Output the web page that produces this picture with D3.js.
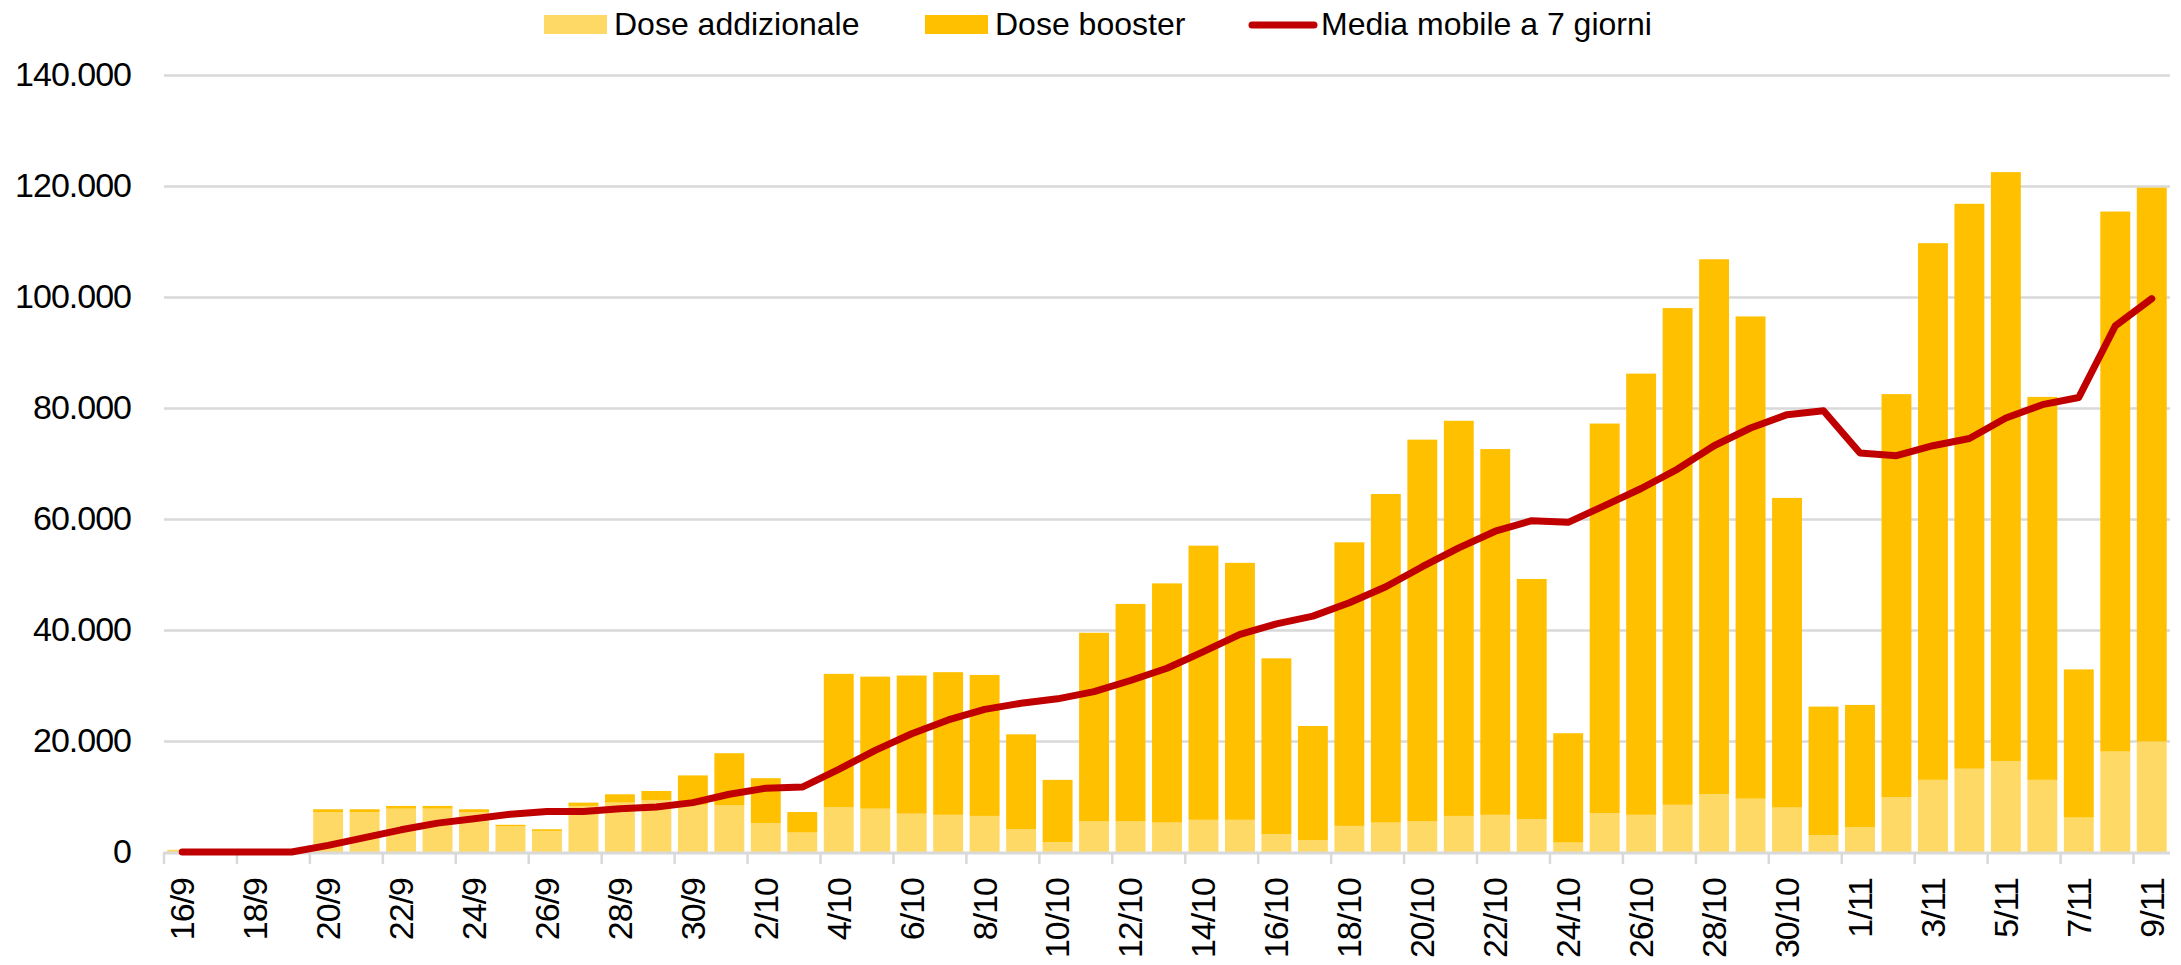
<!DOCTYPE html>
<html>
<head>
<meta charset="utf-8">
<script src="https://cdn.jsdelivr.net/npm/d3@7"></script>
<style>
    body { margin: 0; background: #fff; }
    svg { display: block; font-family: "Liberation Sans", Arial, sans-serif; }
</style>
</head>
<body>
<svg id="chart" width="2181" height="965"></svg>
<script>
// days, one bar each
const dates = [
    "16/9", "17/9", "18/9", "19/9", "20/9", "21/9", "22/9", "23/9", "24/9", "25/9",
    "26/9", "27/9", "28/9", "29/9", "30/9", "1/10", "2/10", "3/10", "4/10", "5/10",
    "6/10", "7/10", "8/10", "9/10", "10/10", "11/10", "12/10", "13/10", "14/10", "15/10",
    "16/10", "17/10", "18/10", "19/10", "20/10", "21/10", "22/10", "23/10", "24/10", "25/10",
    "26/10", "27/10", "28/10", "29/10", "30/10", "31/10", "1/11", "2/11", "3/11", "4/11",
    "5/11", "6/11", "7/11", "8/11", "9/11"
];

const addizionale = [
    400, 0, 0, 0, 7200, 7200, 7800, 7800, 7200, 4600,
    3800, 8300, 8900, 9300, 8500, 8400, 5200, 3500, 8100, 7800,
    6900, 6700, 6500, 4100, 1800, 5500, 5500, 5300, 5800, 5800,
    3200, 2100, 4700, 5300, 5500, 6500, 6700, 5900, 1700, 7000,
    6700, 8500, 10400, 9600, 8000, 3000, 4500, 9900, 13000, 15000,
    16400, 13000, 6200, 18100, 19900
];

const booster = [
    0, 0, 0, 0, 500, 500, 500, 500, 500, 300,
    300, 600, 1500, 1700, 5300, 9400, 8100, 3700, 24000, 23800,
    24900, 25700, 25400, 17100, 11200, 34000, 39200, 43100, 49400, 46300,
    31700, 20600, 51100, 59200, 68800, 71200, 65900, 43300, 19700, 70200,
    79500, 89500, 96400, 86900, 55800, 23200, 22000, 72600, 96700, 101800,
    106100, 69000, 26700, 97300, 99800
];

// media mobile a 7 giorni
const media = [
    0, 0, 0, 0, 1200, 2600, 4000, 5200, 6000, 6800,
    7300, 7300, 7800, 8100, 8900, 10400, 11500, 11700, 14900, 18300,
    21300, 23800, 25700, 26800, 27600, 28900, 30900, 33100, 36100, 39200,
    41100, 42500, 44900, 47800, 51400, 54800, 57800, 59700, 59400, 62400,
    65500, 69000, 73200, 76400, 78800, 79500, 71900, 71400, 73200, 74500,
    78200, 80600, 81900, 94800, 99700
];

const yTicks = [0, 20000, 40000, 60000, 80000, 100000, 120000, 140000];

const legendLabels = ["Dose addizionale", "Dose booster", "Media mobile a 7 giorni"];

const colors = { addizionale: "#FFD966", booster: "#FFC000", media: "#C00000" };
const gridColor = "#D9D9D9";

// italian number format: 140.000
const fmt = d3.formatLocale({ decimal: ",", thousands: ".", grouping: [3], currency: ["€", ""] }).format(",");

const svg = d3.select("#chart");
const plotLeft = 164, plotRight = 2170, plotTop = 75, plotBottom = 852;

const x = d3.scaleBand()
    .domain(dates)
    .range([plotLeft, plotRight])
    .paddingInner(0.18)
    .paddingOuter(0.09);

const y = d3.scaleLinear()
    .domain([0, 140000])
    .range([plotBottom, plotTop]);

// y axis + gridlines
const yAxis = svg.append("g")
    .attr("transform", `translate(${plotLeft},0)`)
    .call(d3.axisLeft(y).tickValues(yTicks).tickFormat(fmt).tickSize(-(plotRight - plotLeft)).tickPadding(33));
yAxis.attr("font-size", 34).attr("font-family", null);
yAxis.select(".domain").remove();
yAxis.selectAll(".tick line")
    .attr("stroke", gridColor)
    .attr("stroke-width", 2.5)
    .filter(d => d === 0).remove();
yAxis.selectAll(".tick text")
    .attr("fill", "#000")
    .attr("letter-spacing", -1);

// stacked bars
const rows = dates.map((d, i) => ({ date: d, addizionale: addizionale[i], booster: booster[i] }));
const series = d3.stack().keys(["addizionale", "booster"])(rows);

svg.append("g")
    .selectAll("g")
    .data(series)
    .join("g")
    .attr("fill", s => colors[s.key])
    .selectAll("rect")
    .data(s => s)
    .join("rect")
    .attr("x", d => x(d.data.date))
    .attr("width", x.bandwidth())
    .attr("y", d => y(d[1]))
    .attr("height", d => y(d[0]) - y(d[1]));

// x axis line and tick marks (at category edges, every 2 days)
const labelled = dates.filter((d, i) => i % 2 === 0);
const edge = d => x(d) - (x.step() - x.bandwidth()) / 2;

svg.append("line")
    .attr("x1", plotLeft).attr("x2", plotRight)
    .attr("y1", plotBottom + 1).attr("y2", plotBottom + 1)
    .attr("stroke", gridColor)
    .attr("stroke-width", 3);

svg.append("g")
    .selectAll("line")
    .data(labelled)
    .join("line")
    .attr("x1", edge).attr("x2", edge)
    .attr("y1", plotBottom).attr("y2", plotBottom + 12)
    .attr("stroke", gridColor)
    .attr("stroke-width", 2.5);

const xAxis = svg.append("g")
    .attr("transform", `translate(0,${plotBottom})`)
    .call(d3.axisBottom(x).tickValues(labelled).tickSize(0).tickPadding(0));
xAxis.attr("font-size", 34).attr("font-family", null);
xAxis.select(".domain").remove();
xAxis.selectAll(".tick text")
    .attr("fill", "#000")
    .attr("letter-spacing", -1)
    .attr("transform", "rotate(-90)")
    .attr("text-anchor", "end")
    .attr("x", -26)
    .attr("y", 0)
    .attr("dy", "0.35em");

// moving average line
const line = d3.line()
    .x((d, i) => x(dates[i]) + x.bandwidth() / 2)
    .y(d => y(d));

svg.append("path")
    .datum(media)
    .attr("d", line)
    .attr("fill", "none")
    .attr("stroke", colors.media)
    .attr("stroke-width", 7)
    .attr("stroke-linejoin", "round")
    .attr("stroke-linecap", "round");

// legend
const legendX = [544, 925, 1248];
const legend = svg.append("g").attr("font-size", 32);

legend.append("rect")
    .attr("x", legendX[0]).attr("y", 15).attr("width", 63).attr("height", 19)
    .attr("fill", colors.addizionale);
legend.append("rect")
    .attr("x", legendX[1]).attr("y", 15).attr("width", 63).attr("height", 19)
    .attr("fill", colors.booster);
legend.append("line")
    .attr("x1", legendX[2] + 4).attr("x2", legendX[2] + 66)
    .attr("y1", 25).attr("y2", 25)
    .attr("stroke", colors.media)
    .attr("stroke-width", 7)
    .attr("stroke-linecap", "round");

legend.selectAll("text")
    .data(legendLabels)
    .join("text")
    .attr("x", (d, i) => i === 2 ? legendX[i] + 73 : legendX[i] + 70)
    .attr("y", 35)
    .attr("fill", "#000")
    .text(d => d);
</script>
</body>
</html>
